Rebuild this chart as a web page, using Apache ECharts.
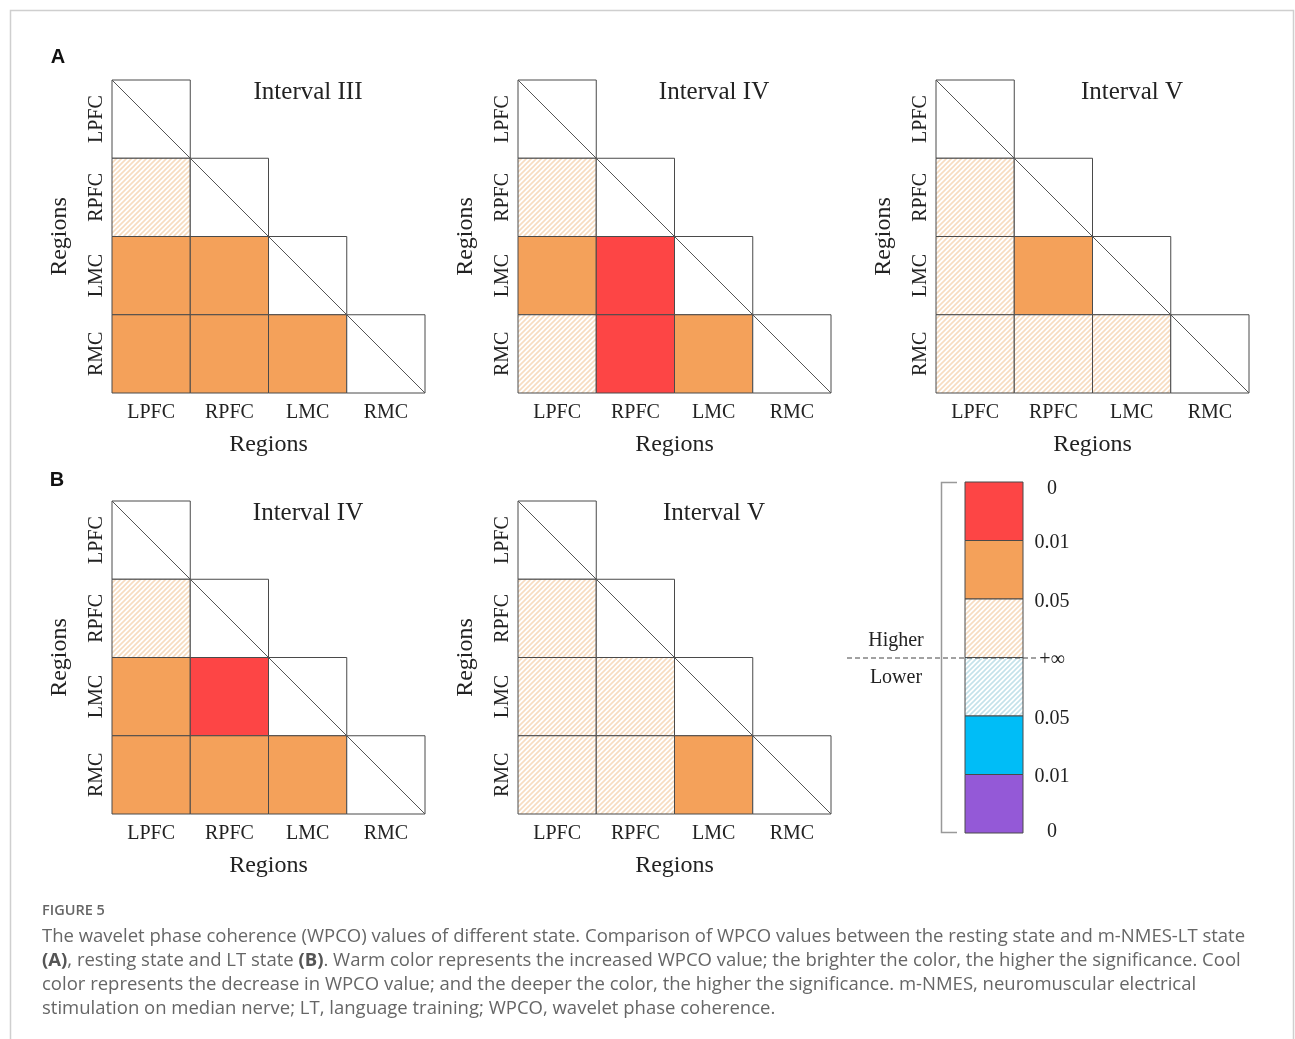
<!DOCTYPE html>
<html><head><meta charset="utf-8">
<script src="https://cdn.jsdelivr.net/npm/echarts@6/dist/echarts.min.js"></script>
<style>html,body{margin:0;padding:0;background:#fff}#c{width:1295px;height:1039px}</style>
</head><body><div id="c"></div>
<script>
// ---- data ----
const regions = ['LPFC', 'RPFC', 'LMC', 'RMC'];
// significance codes, lower triangle by row (row = y region, col = x region)
// 0 = diagonal (self), 1 = higher n.s., 2 = higher p<0.05, 3 = higher p<0.01
// -1 = lower n.s., -2 = lower p<0.05, -3 = lower p<0.01
const panelTitles = ['Interval III', 'Interval IV', 'Interval V', 'Interval IV', 'Interval V'];
const aInterval3 = [[0], [1, 0], [2, 2, 0], [2, 2, 2, 0]];
const aInterval4 = [[0], [1, 0], [2, 3, 0], [1, 3, 2, 0]];
const aInterval5 = [[0], [1, 0], [1, 2, 0], [1, 1, 1, 0]];
const bInterval4 = [[0], [1, 0], [2, 3, 0], [2, 2, 2, 0]];
const bInterval5 = [[0], [1, 0], [1, 1, 0], [1, 1, 2, 0]];
const legendCodes = [3, 2, 1, -1, -2, -3];
const legendTicks = ['0', '0.01', '0.05', '+\u221e', '0.05', '0.01', '0'];

// ---- styles ----
function hatch(color) {
  const s = 5, cv = document.createElement('canvas');
  cv.width = s; cv.height = s;
  const g = cv.getContext('2d');
  g.fillStyle = '#fff'; g.fillRect(0, 0, s, s);
  g.strokeStyle = color; g.lineWidth = 1.6;
  g.beginPath();
  g.moveTo(-1, s + 1); g.lineTo(s + 1, -1);
  g.moveTo(-1, 1); g.lineTo(1, -1);
  g.moveTo(s - 1, s + 1); g.lineTo(s + 1, s - 1);
  g.stroke();
  return { image: cv, repeat: 'repeat' };
}
const fills = {
  '0': '#ffffff',
  '1': hatch('#f7dcc0'),
  '2': '#f4a15a',
  '3': '#fd4545',
  '-1': hatch('#c4e2ea'),
  '-2': '#00bdf7',
  '-3': '#9459d7'
};
const SERIF = '"Liberation Serif","Times New Roman",serif';
const panels = [
  { data: aInterval3, left: 112, top: 80 },
  { data: aInterval4, left: 518, top: 80 },
  { data: aInterval5, left: 936, top: 80 },
  { data: bInterval4, left: 112, top: 501 },
  { data: bInterval5, left: 518, top: 501 }
];
const SIZE = 313;

function cellRender(params, api) {
  const code = api.value(2);
  const c = api.coord([api.value(0), api.value(1)]);
  const sz = api.size([1, 1]);
  const x0 = c[0] - sz[0] / 2, y0 = c[1] - sz[1] / 2;
  const children = [{
    type: 'rect',
    shape: { x: x0, y: y0, width: sz[0], height: sz[1] },
    style: { fill: fills[String(code)], stroke: '#4a4a4a', lineWidth: 1 }
  }];
  if (code === 0) {
    children.push({
      type: 'line',
      shape: { x1: x0, y1: y0, x2: x0 + sz[0], y2: y0 + sz[1] },
      style: { stroke: '#555', lineWidth: 1 }
    });
  }
  return { type: 'group', children };
}

const grid = [], xAxis = [], yAxis = [], series = [], title = [];
panels.forEach((p, i) => {
  grid.push({ left: p.left, top: p.top, width: SIZE, height: SIZE });
  xAxis.push({
    type: 'category', gridIndex: i, data: regions,
    axisLine: { show: false }, axisTick: { show: false }, splitLine: { show: false },
    axisLabel: { fontFamily: SERIF, fontSize: 20, color: '#222', margin: 10 },
    name: 'Regions', nameLocation: 'middle', nameGap: 40,
    nameTextStyle: { fontFamily: SERIF, fontSize: 24, color: '#222' }
  });
  yAxis.push({
    type: 'category', gridIndex: i, data: regions, inverse: true,
    axisLine: { show: false }, axisTick: { show: false }, splitLine: { show: false },
    axisLabel: { fontFamily: SERIF, fontSize: 20, color: '#222', rotate: 90, margin: 5 },
    name: 'Regions', nameLocation: 'middle', nameGap: 40, nameRotate: 90,
    nameTextStyle: { fontFamily: SERIF, fontSize: 24, color: '#222' }
  });
  const d = [];
  p.data.forEach((row, r) => row.forEach((code, c) => d.push([c, r, code])));
  series.push({
    type: 'custom', xAxisIndex: i, yAxisIndex: i, data: d,
    encode: { x: 0, y: 1 }, renderItem: cellRender, silent: true
  });
  title.push({
    text: panelTitles[i], left: p.left + 191, top: p.top - 5, textAlign: 'center',
    textStyle: { fontFamily: SERIF, fontSize: 25, fontWeight: 'normal', color: '#222' }
  });
});

// legend color bar as its own grid
const li = panels.length;
grid.push({ left: 965, top: 482, width: 58, height: 351 });
xAxis.push({ type: 'category', gridIndex: li, data: ['p'], show: false });
const lblRich = { fontFamily: SERIF, fontSize: 20, color: '#222' };
yAxis.push({
  type: 'value', gridIndex: li, min: 0, max: 6, interval: 1, inverse: true, position: 'right',
  axisLine: { show: false }, axisTick: { show: false }, splitLine: { show: false },
  axisLabel: {
    fontFamily: SERIF, fontSize: 20, color: '#222', align: 'center', margin: 29,
    formatter: v => (v === 0 ? '{t|' : v === 6 ? '{e|' : '{n|') + legendTicks[v] + '}',
    rich: {
      t: Object.assign({ padding: [14, 0, 0, 0] }, lblRich),
      n: Object.assign({ padding: [5, 0, 0, 0] }, lblRich),
      e: Object.assign({ padding: [0, 0, 2, 0] }, lblRich)
    }
  }
});
series.push({
  type: 'custom', xAxisIndex: li, yAxisIndex: li, silent: true,
  data: legendCodes.map((c, k) => [0, k, c]),
  encode: { x: 0, y: 1 },
  renderItem: function (params, api) {
    const k = api.value(1), code = api.value(2);
    const a = api.coord([0, k]), b = api.coord([0, k + 1]);
    const w = api.size([1, 0])[0];
    return {
      type: 'rect',
      shape: { x: a[0] - w / 2, y: a[1], width: w, height: b[1] - a[1] },
      style: { fill: fills[String(code)], stroke: '#4a4a4a', lineWidth: 1 }
    };
  }
});

const CAP = '"Open Sans","Noto Sans",sans-serif';
const capStyle = { fontFamily: CAP, fontSize: 18.5, fill: '#666' };
const graphic = [
  { type: 'rect', shape: { x: 10.5, y: 10.5, width: 1283, height: 1060 }, style: { fill: 'none', stroke: '#cfcfcf', lineWidth: 1.5 }, silent: true },
  { type: 'text', x: 58, y: 57, style: { text: 'A', font: 'bold 20px "Liberation Sans",Arial,sans-serif', fill: '#111', align: 'center', verticalAlign: 'middle' } },
  { type: 'text', x: 57, y: 480, style: { text: 'B', font: 'bold 20px "Liberation Sans",Arial,sans-serif', fill: '#111', align: 'center', verticalAlign: 'middle' } },
  // legend bracket
  { type: 'polyline', shape: { points: [[957, 482.5], [941.5, 482.5], [941.5, 832.5], [957, 832.5]] }, style: { fill: 'none', stroke: '#999', lineWidth: 1.5 } },
  { type: 'line', shape: { x1: 847, y1: 658, x2: 1036, y2: 658 }, style: { stroke: '#444', lineWidth: 1, lineDash: [5, 3] }, z: 10 },
  { type: 'text', x: 896, y: 641, style: { text: 'Higher', fontFamily: SERIF, fontSize: 20, fill: '#222', align: 'center', verticalAlign: 'middle' } },
  { type: 'text', x: 896, y: 678, style: { text: 'Lower', fontFamily: SERIF, fontSize: 20, fill: '#222', align: 'center', verticalAlign: 'middle' } },
  // caption
  { type: 'text', x: 42, y: 911, style: { text: 'FIGURE 5', fontFamily: CAP, fontSize: 14.5, fontWeight: 600, fill: '#666', verticalAlign: 'middle' } },
  { type: 'text', x: 42, y: 937, style: Object.assign({ text: 'The wavelet phase coherence (WPCO) values of different state. Comparison of WPCO values between the resting state and m-NMES-LT state', verticalAlign: 'middle' }, capStyle) },
  { type: 'text', x: 42, y: 961, style: Object.assign({
      text: '{b|(A)}, resting state and LT state {b|(B)}. Warm color represents the increased WPCO value; the brighter the color, the higher the significance. Cool',
      verticalAlign: 'middle',
      rich: { b: { fontFamily: CAP, fontSize: 18.5, fontWeight: 'bold', fill: '#555' } } }, capStyle) },
  { type: 'text', x: 42, y: 985, style: Object.assign({ text: 'color represents the decrease in WPCO value; and the deeper the color, the higher the significance. m-NMES, neuromuscular electrical', verticalAlign: 'middle' }, capStyle) },
  { type: 'text', x: 42, y: 1009, style: Object.assign({ text: 'stimulation on median nerve; LT, language training; WPCO, wavelet phase coherence.', verticalAlign: 'middle' }, capStyle) }
];

const chart = echarts.init(document.getElementById('c'), null, { renderer: 'canvas' });
chart.setOption({
  backgroundColor: '#fff', animation: false,
  title, grid, xAxis, yAxis, series, graphic
});
</script></body></html>
